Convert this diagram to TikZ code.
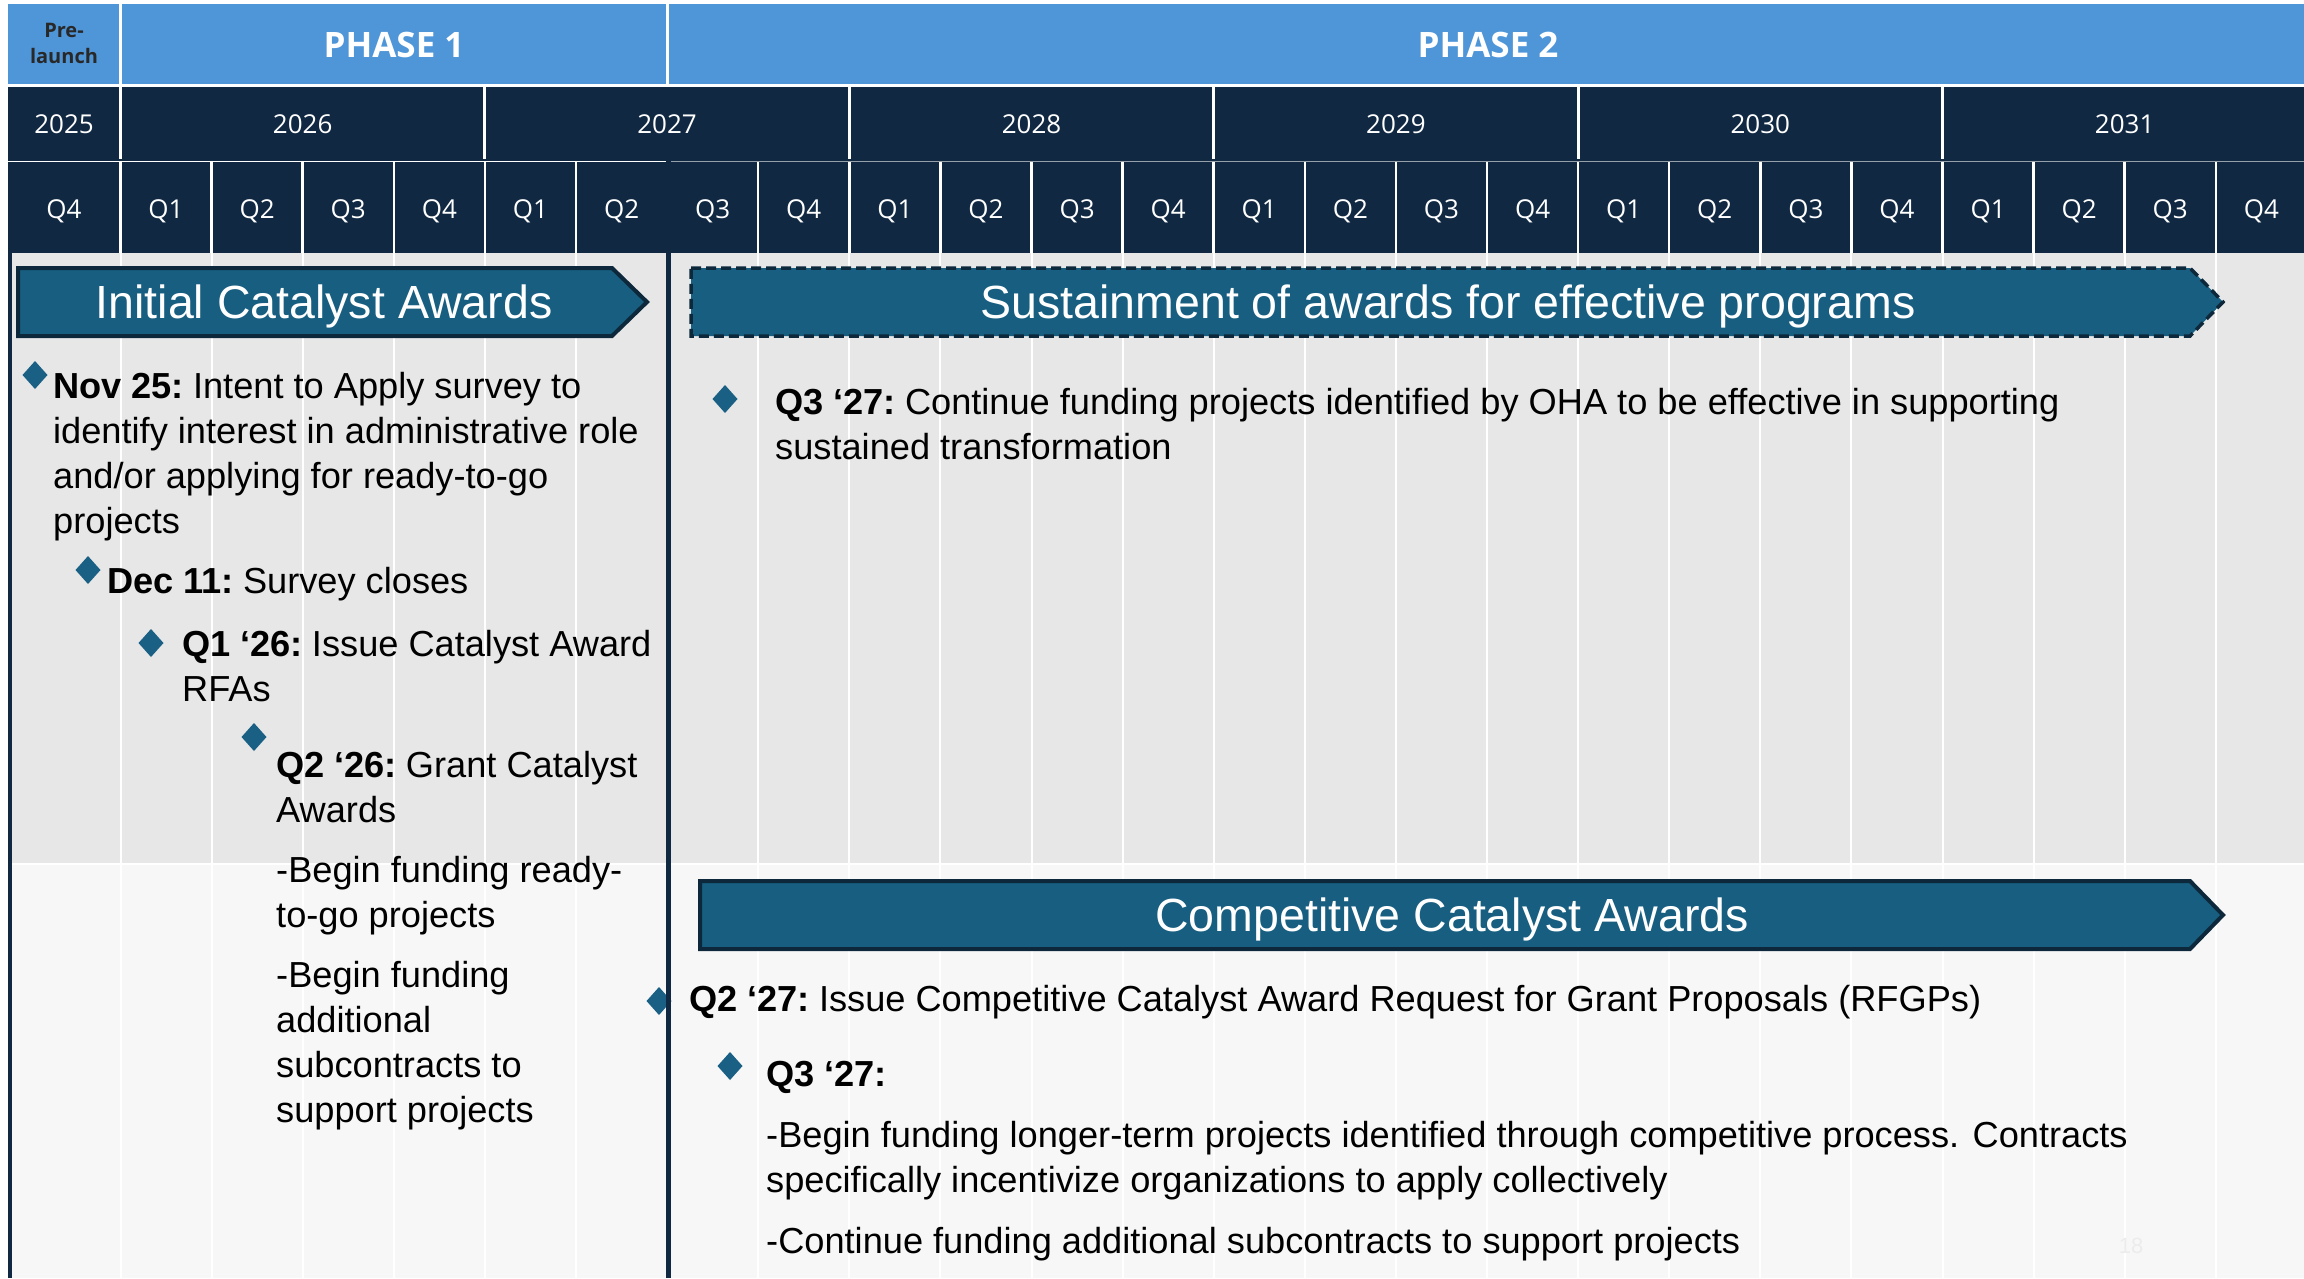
\documentclass[tikz,border=0pt]{standalone}
\usepackage{fontspec}
\setmainfont{Liberation Sans}
\newfontfamily\hdrfont{Open Sans}
\definecolor{phaseblue}{RGB}{79,150,217}
\definecolor{navy}{RGB}{16,40,66}
\definecolor{arrowfill}{RGB}{23,94,128}
\definecolor{arrowline}{RGB}{13,40,58}
\definecolor{bodygray}{RGB}{231,231,231}
\definecolor{bodylight}{RGB}{247,247,247}
\definecolor{dmdcol}{RGB}{26,96,132}
\definecolor{prelab}{RGB}{40,40,40}
\definecolor{pagenum}{RGB}{236,236,236}
\definecolor{rowline}{RGB}{150,160,170}
\newcommand{\dmnd}[2]{\fill[dmdcol] (#1-12.5,#2) -- (#1,#2-14) -- (#1+12.5,#2) -- (#1,#2+14) -- cycle;}
\newcommand{\pfx}[1]{\textbf{#1}\hspace{-0.12em}}
\begin{document}
\begin{tikzpicture}[x=1pt,y=-1pt,
 bodytxt/.style={anchor=base west, inner sep=0pt, font=\fontsize{36.2}{43}\selectfont, text=black},
 ttltxt/.style={anchor=base, inner sep=0pt, font=\fontsize{46.5}{50}\selectfont, text=white},
 yrtxt/.style={anchor=base, inner sep=0pt, font=\hdrfont\fontsize{26}{30}\selectfont, text=white},
 phasetxt/.style={anchor=base, inner sep=0pt, font=\hdrfont\bfseries\fontsize{35}{40}\selectfont, text=white},
 pretxt/.style={anchor=base, inner sep=0pt, font=\hdrfont\bfseries\fontsize{20}{24}\selectfont, text=prelab},
 banner/.style={fill=arrowfill, draw=arrowline, line width=4pt, line join=miter},
 cellsep/.style={white, line width=3pt},
 gridln/.style={white, line width=2pt},
]
\useasboundingbox (0,0) rectangle (2304,1278);
\fill[white] (0,0) rectangle (2304,1278);
% body background
\fill[bodygray] (10,253) rectangle (2304,863);
\fill[bodylight] (10,865) rectangle (2304,1278);
\foreach \k in {0,...,23}{
  \pgfmathsetmacro\xx{120.5+91.1*\k}
  \draw[gridln] (\xx,253) -- (\xx,1278);
}
% header rows
\fill[phaseblue] (8,4) rectangle (2304,84);
\fill[navy] (8,87) rectangle (2304,253);
\draw[white, line width=1.5pt] (8,161.5) -- (668,161.5);
\draw[rowline, line width=1.5pt] (668,161.5) -- (2304,161.5);
\draw[cellsep] (120.5,4) -- (120.5,84);
\draw[cellsep] (667.1,4) -- (667.1,84);
\foreach \k in {0,4,...,20}{
  \pgfmathsetmacro\xx{120.5+91.1*\k}
  \draw[cellsep] (\xx,87) -- (\xx,159);
}
\foreach \k in {0,...,23}{
  \pgfmathsetmacro\xx{120.5+91.1*\k}
  \draw[cellsep, line width=2.5pt] (\xx,162) -- (\xx,253);
}
\node[pretxt] (pre1) at (64,37) {Pre-};
\node[pretxt] (pre2) at (64,63) {launch};
\node[phasetxt] (ph1) at (394,57) {PHASE 1};
\node[phasetxt] (ph2) at (1488,57) {PHASE 2};
\node[yrtxt] (y2025) at (64,133) {2025};
\foreach \yr [count=\i from 0] in {2026,2027,2028,2029,2030,2031}{
  \pgfmathsetmacro\xx{120.5+364.4*\i+182.2}
  \node[yrtxt] (y\yr) at (\xx,133) {\yr};
}
\node[yrtxt] (q0425) at (64,218) {Q4};
\foreach \k in {0,...,23}{
  \pgfmathsetmacro\xx{120.5+91.1*\k+45.55}
  \pgfmathtruncatemacro\q{mod(\k,4)+1}
  \node[yrtxt] (q\k) at (\xx,218) {Q\q};
}
% banners
\draw[banner] (18,268) -- (612,268) -- (647,302) -- (612,336) -- (18,336) -- cycle;
\node[ttltxt] (ica) at (324,318) {Initial Catalyst Awards};
\draw[banner, line width=3.5pt, dash pattern=on 10pt off 5pt] (691,268) -- (2190,268) -- (2223,302) -- (2190,336) -- (691,336) -- cycle;
\node[ttltxt] (sus) at (1448,318) {Sustainment of awards for effective programs};
\draw[banner] (700,881) -- (2190,881) -- (2223,915) -- (2190,949) -- (700,949) -- cycle;
\node[ttltxt] (cca) at (1452,931) {Competitive Catalyst Awards};
% diamonds
\dmnd{35}{375}
\dmnd{88}{570}
\dmnd{151}{643}
\dmnd{254}{737}
\dmnd{725}{399}
\dmnd{659}{1001}
\dmnd{730}{1066}
% dark vertical lines
\draw[navy, line width=4pt] (10,162) -- (10,1278);
\draw[navy, line width=5pt] (668.5,161) -- (668.5,1278);
% left text
\node[bodytxt] (l1) at (53,398) {\pfx{Nov 25:} Intent to Apply survey to};
\node[bodytxt] (l2) at (53,443) {identify interest in administrative role};
\node[bodytxt] (l3) at (53,488) {and/or applying for ready-to-go};
\node[bodytxt] (l4) at (53,533) {projects};
\node[bodytxt] (l5) at (107,593) {\pfx{Dec 11:} Survey closes};
\node[bodytxt] (l6) at (182,656) {\pfx{Q1 ‘26:} Issue Catalyst Award};
\node[bodytxt] (l7) at (182,701) {RFAs};
\node[bodytxt] (l8) at (276,777) {\pfx{Q2 ‘26:} Grant Catalyst};
\node[bodytxt] (l9) at (276,822) {Awards};
\node[bodytxt] (l10) at (276,882) {-Begin funding ready-};
\node[bodytxt] (l11) at (276,927) {to-go projects};
\node[bodytxt] (l12) at (276,987) {-Begin funding};
\node[bodytxt] (l13) at (276,1032) {additional};
\node[bodytxt] (l14) at (276,1077) {subcontracts to};
\node[bodytxt] (l15) at (276,1122) {support projects};
% right text
\node[bodytxt] (r1) at (775,414) {\pfx{Q3 ‘27:} Continue funding projects identified by OHA to be effective in supporting};
\node[bodytxt] (r2) at (775,459) {sustained transformation};
\node[bodytxt] (r3) at (689,1011) {\pfx{Q2 ‘27:} Issue Competitive Catalyst Award Request for Grant Proposals (RFGPs)};
\node[bodytxt] (r4) at (766,1086) {\textbf{Q3 ‘27:}};
\node[bodytxt] (r5) at (766,1147) {-Begin funding longer-term projects identified through competitive process. Contracts};
\node[bodytxt] (r6) at (766,1192) {specifically incentivize organizations to apply collectively};
\node[bodytxt] (r7) at (766,1253) {-Continue funding additional subcontracts to support projects};
\node[anchor=base, inner sep=0pt, font=\fontsize{22}{26}\selectfont, text=pagenum] (pg) at (2131,1253) {18};
\end{tikzpicture}
\end{document}
